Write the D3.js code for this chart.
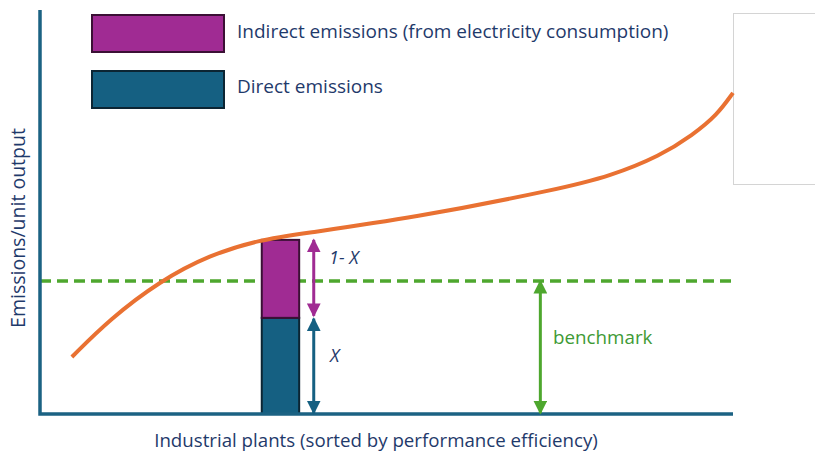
<!doctype html>
<html lang="en">
<head>
<meta charset="utf-8">
<title>Benchmark vs emissions</title>
<script src="https://cdn.jsdelivr.net/npm/d3@7"></script>
<style>
  body { margin: 0; background: #fff; }
  text { font-family: "Open Sans", "Liberation Sans", Arial, sans-serif; }
</style>
</head>
<body>
<script>

// Data (abstract units: plants 0-100 on x, emissions 0-100 on y)
var curveX = [4.6, 10.1, 17.3, 24.5, 31.7, 37.5, 53.8, 75.0, 82.3, 89.5, 94.2, 97.7, 100];
var curveY = [14.1, 23.5, 32.9, 39.4, 43.1, 44.6, 48.5, 55.7, 58.9, 63.9, 69.1, 74.0, 79.5];
var benchmark = 32.9;
var plantX = [32.0, 37.4];       // highlighted plant, left / right edge
var direct = 23.8;               // direct emissions of that plant
var total = 43.1;                // direct + indirect
var arrowPlantX = 39.5;
var arrowBenchX = 72.2;
var legendLabels = ["Indirect emissions (from electricity consumption)", "Direct emissions"];
var xTitle = "Industrial plants (sorted by performance efficiency)";
var yTitle = "Emissions/unit output";

var col = {
  axis: "#1b6283", orange: "#e97132", purple: "#a02b93", teal: "#156082",
  green: "#4ea72e", text: "#1f3a6b"
};

var width = 815, height = 454;
var svg = d3.select("body").append("svg")
  .attr("width", width)
  .attr("height", height);

var x = d3.scaleLinear().domain([0, 100]).range([40, 733]);
var y = d3.scaleLinear().domain([0, 100]).range([414, 10]);

// markers for arrows
var defs = svg.append("defs");
[["purple", col.purple], ["teal", col.teal], ["green", col.green]].forEach(function(m) {
  defs.append("marker")
    .attr("id", "head-" + m[0])
    .attr("viewBox", "0 0 10 10")
    .attr("refX", 9).attr("refY", 5)
    .attr("markerWidth", 4.6).attr("markerHeight", 4.6)
    .attr("markerUnits", "strokeWidth")
    .attr("orient", "auto-start-reverse")
  .append("path")
    .attr("d", "M0,0L10,5L0,10Z")
    .attr("fill", m[1]);
});

// right white box
svg.append("rect")
  .attr("x", 733.5).attr("y", 13.5)
  .attr("width", 90).attr("height", 171)
  .attr("fill", "#fff").attr("stroke", "#d4d4d4");

// benchmark line
svg.append("line")
  .attr("x1", x(0)).attr("x2", x(100))
  .attr("y1", y(benchmark)).attr("y2", y(benchmark))
  .attr("stroke", col.green).attr("stroke-width", 3.5)
  .attr("stroke-dasharray", "11,6");

// stacked bar
svg.append("rect")
  .attr("x", x(plantX[0])).attr("y", y(direct))
  .attr("width", x(plantX[1]) - x(plantX[0]))
  .attr("height", y(0) - y(direct))
  .attr("fill", col.teal).attr("stroke", "#0c2533").attr("stroke-width", 2);
svg.append("rect")
  .attr("x", x(plantX[0])).attr("y", y(total))
  .attr("width", x(plantX[1]) - x(plantX[0]))
  .attr("height", y(direct) - y(total))
  .attr("fill", col.purple).attr("stroke", "#3b1035").attr("stroke-width", 2);

// curve
var pts = curveX.map(function(d, i) { return [d, curveY[i]]; });
var line = d3.line()
  .x(function(d) { return x(d[0]); })
  .y(function(d) { return y(d[1]); })
  .curve(d3.curveBasis);
svg.append("path")
  .attr("d", line(pts))
  .attr("fill", "none")
  .attr("stroke", col.orange)
  .attr("stroke-width", 4)
  .attr("stroke-linecap", "butt");

// axes
svg.append("path")
  .attr("d", "M" + x(0) + "," + y(100) + "V" + y(0) + "H" + x(100))
  .attr("fill", "none")
  .attr("stroke", col.axis)
  .attr("stroke-width", 3.5);

// double arrows
function dblArrow(xv, y0, y1, name, c) {
  svg.append("line")
    .attr("x1", x(xv)).attr("x2", x(xv))
    .attr("y1", y(y0)).attr("y2", y(y1))
    .attr("stroke", c).attr("stroke-width", 3)
    .attr("marker-start", "url(#head-" + name + ")")
    .attr("marker-end", "url(#head-" + name + ")");
}
dblArrow(arrowPlantX, total, direct + 0.5, "purple", col.purple);
dblArrow(arrowPlantX, direct - 0.2, 0.2, "teal", col.teal);
dblArrow(arrowBenchX, benchmark, 0.2, "green", col.green);

svg.append("text")
  .attr("x", 329).attr("y", 264)
  .attr("font-size", 18).attr("font-style", "italic")
  .attr("fill", col.text)
  .text("1- X");
svg.append("text")
  .attr("x", 330).attr("y", 362)
  .attr("font-size", 18).attr("font-style", "italic")
  .attr("fill", col.text)
  .text("X");
svg.append("text")
  .attr("x", 553).attr("y", 344)
  .attr("font-size", 18.8)
  .attr("fill", "#3e9a35")
  .text("benchmark");

// legend
var legend = svg.append("g");
var legendFill = [col.purple, col.teal];
var legendStroke = ["#3b1035", "#0c2533"];
legendLabels.forEach(function(lbl, i) {
  legend.append("rect")
    .attr("x", 92).attr("y", 15 + i * 56)
    .attr("width", 132).attr("height", 37)
    .attr("fill", legendFill[i])
    .attr("stroke", legendStroke[i]).attr("stroke-width", 2);
  legend.append("text")
    .attr("x", 237).attr("y", 38 + i * 55)
    .attr("font-size", 19)
    .attr("fill", col.text)
    .text(lbl);
});

// axis titles
svg.append("text")
  .attr("x", 376).attr("y", 447)
  .attr("text-anchor", "middle")
  .attr("font-size", 18.7)
  .attr("fill", col.text)
  .text(xTitle);
svg.append("text")
  .attr("transform", "translate(25,228) rotate(-90)")
  .attr("text-anchor", "middle")
  .attr("font-size", 19.5)
  .attr("fill", col.text)
  .text(yTitle);

</script>
</body>
</html>
